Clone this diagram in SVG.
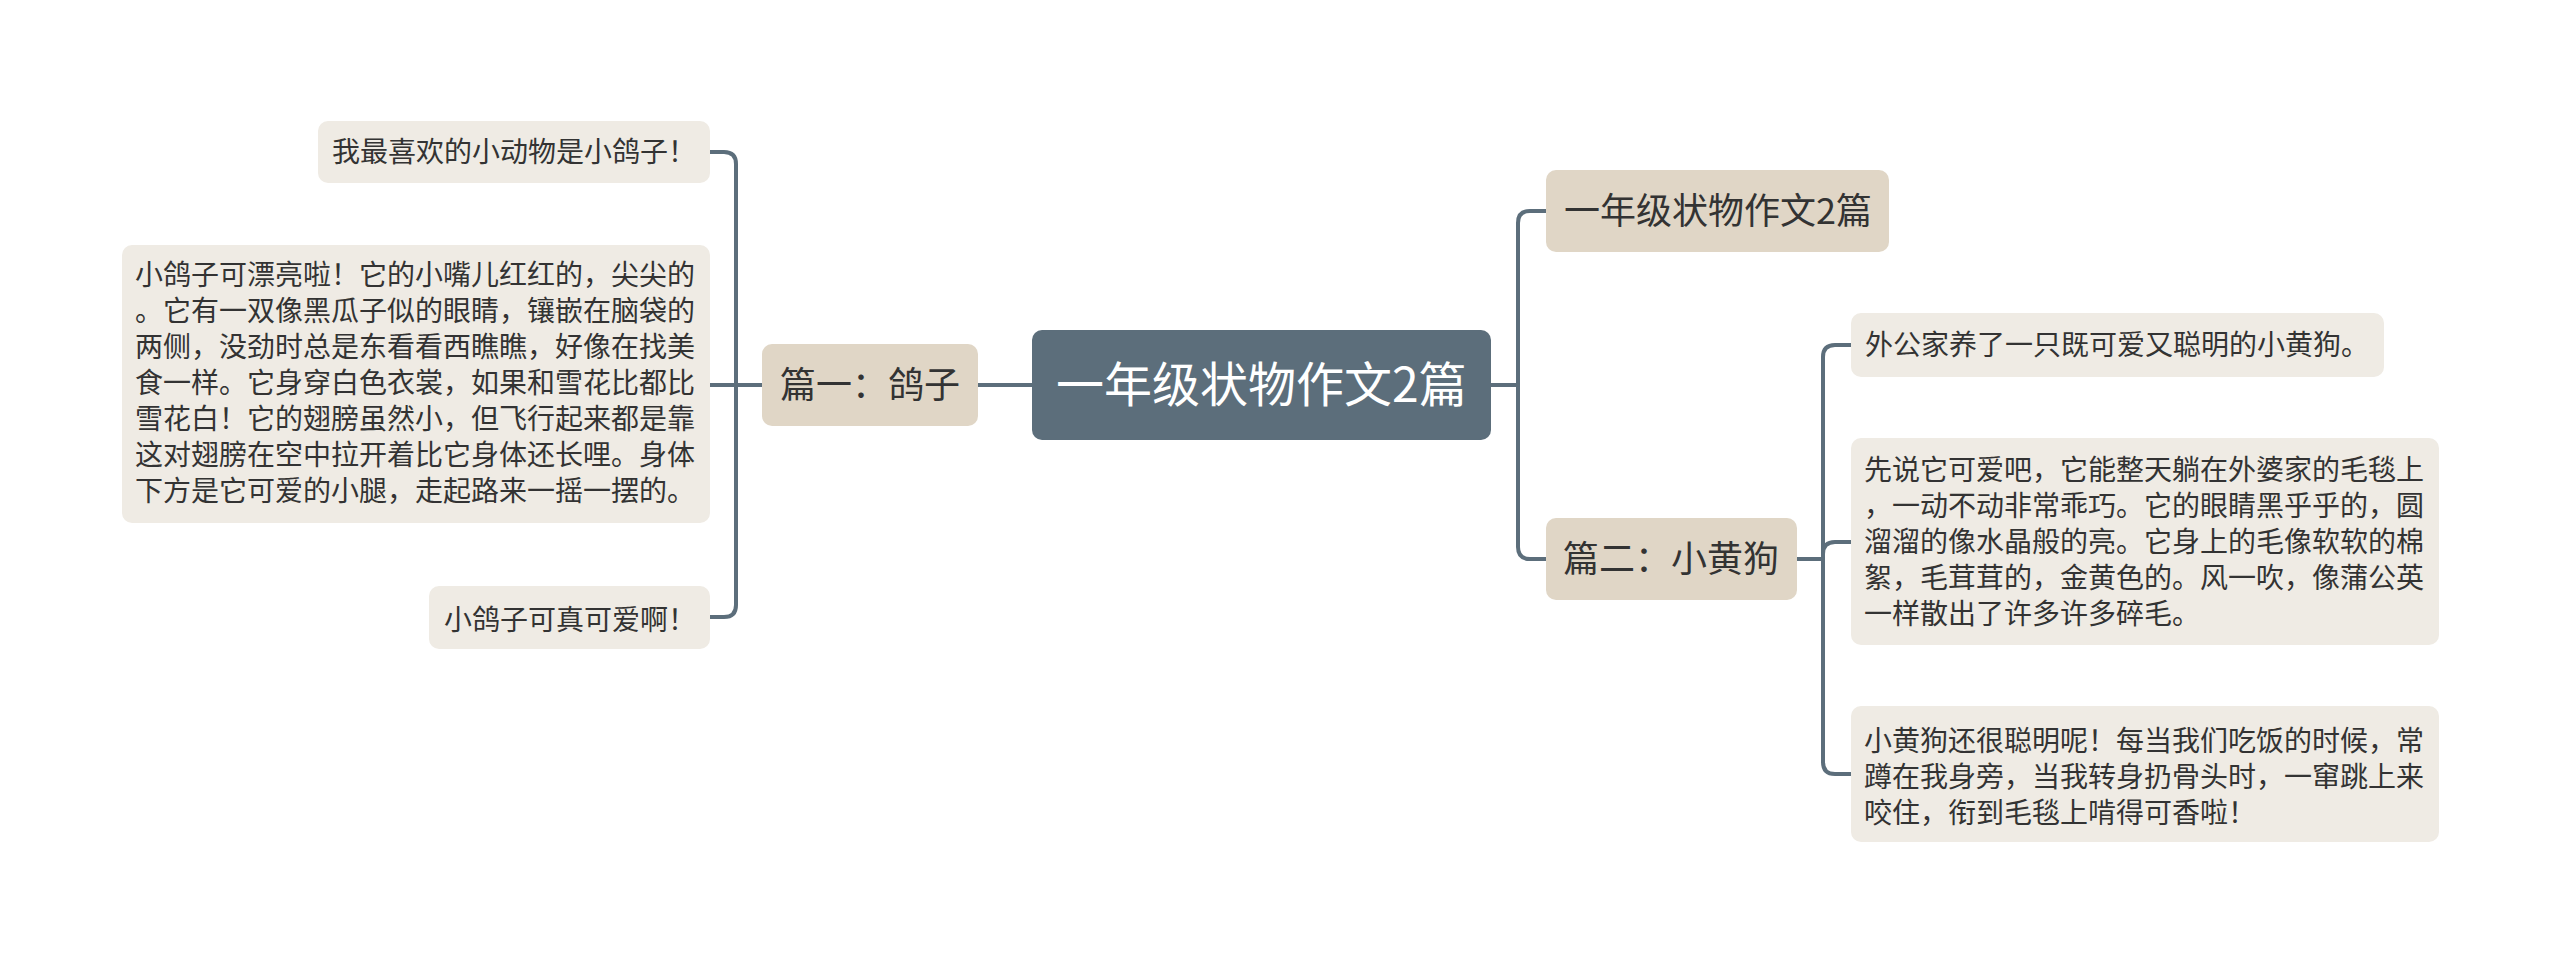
<svg xmlns="http://www.w3.org/2000/svg" width="2560" height="963" viewBox="0 0 2560 963">
<style>
text{font-family:"Noto Sans CJK SC","Noto Sans",sans-serif;}
.root rect{fill:#5c6e7b;}
.root text{fill:#ffffff;font-size:48px;}
.mid rect{fill:#e0d6c6;}
.mid text{fill:#333333;font-size:36px;}
.leaf rect{fill:#efebe4;}
.leaf text{fill:#333333;font-size:28px;}
.conn path{fill:none;stroke:#5c6e7b;stroke-width:4;stroke-linecap:round;}
</style>
<rect width="2560" height="963" fill="#ffffff"/>
<g id="connectors" class="conn">
<path d="M1032 385 H978"/>
<path d="M762 385 H736 V164 Q736 152 724 152 H710"/>
<path d="M762 385 H710"/>
<path d="M762 385 H736 V605 Q736 617 724 617 H710"/>
<path d="M1491 385 H1518"/>
<path d="M1518 385 V223 Q1518 211 1530 211 H1546"/>
<path d="M1518 385 V547 Q1518 559 1530 559 H1546"/>
<path d="M1797 559 H1823"/>
<path d="M1823 559 V357 Q1823 345 1835 345 H1851"/>
<path d="M1823 559 V554 Q1823 542 1835 542 H1851"/>
<path d="M1823 559 V762 Q1823 774 1835 774 H1851"/>
</g>
<g id="root" class="root">
<rect x="1032" y="330" width="459" height="110" rx="10"/>
<text x="1056" y="402">一年级状物作文2篇</text>
</g>
<g id="p1" class="mid">
<rect x="762" y="344" width="216" height="82" rx="10"/>
<text x="780" y="398">篇一：鸽子</text>
</g>
<g id="p1a" class="leaf">
<rect x="318" y="121" width="392" height="62" rx="10"/>
<text x="332" y="162">我最喜欢的小动物是小鸽子！</text>
</g>
<g id="p1b" class="leaf">
<rect x="122" y="245" width="588" height="278" rx="10"/>
<text x="135" y="285">小鸽子可漂亮啦！它的小嘴儿红红的，尖尖的</text>
<text x="135" y="321">。它有一双像黑瓜子似的眼睛，镶嵌在脑袋的</text>
<text x="135" y="357">两侧，没劲时总是东看看西瞧瞧，好像在找美</text>
<text x="135" y="393">食一样。它身穿白色衣裳，如果和雪花比都比</text>
<text x="135" y="429">雪花白！它的翅膀虽然小，但飞行起来都是靠</text>
<text x="135" y="465">这对翅膀在空中拉开着比它身体还长哩。身体</text>
<text x="135" y="501">下方是它可爱的小腿，走起路来一摇一摆的。</text>
</g>
<g id="p1c" class="leaf">
<rect x="429" y="586" width="281" height="63" rx="10"/>
<text x="444" y="630">小鸽子可真可爱啊！</text>
</g>
<g id="t1" class="mid">
<rect x="1546" y="170" width="343" height="82" rx="10"/>
<text x="1564" y="224">一年级状物作文2篇</text>
</g>
<g id="p2" class="mid">
<rect x="1546" y="518" width="251" height="82" rx="10"/>
<text x="1563" y="572">篇二：小黄狗</text>
</g>
<g id="p2a" class="leaf">
<rect x="1851" y="313" width="533" height="64" rx="10"/>
<text x="1865" y="355">外公家养了一只既可爱又聪明的小黄狗。</text>
</g>
<g id="p2b" class="leaf">
<rect x="1851" y="438" width="588" height="207" rx="10"/>
<text x="1864" y="480">先说它可爱吧，它能整天躺在外婆家的毛毯上</text>
<text x="1864" y="516">，一动不动非常乖巧。它的眼睛黑乎乎的，圆</text>
<text x="1864" y="552">溜溜的像水晶般的亮。它身上的毛像软软的棉</text>
<text x="1864" y="588">絮，毛茸茸的，金黄色的。风一吹，像蒲公英</text>
<text x="1864" y="624">一样散出了许多许多碎毛。</text>
</g>
<g id="p2c" class="leaf">
<rect x="1851" y="706" width="588" height="136" rx="10"/>
<text x="1864" y="751">小黄狗还很聪明呢！每当我们吃饭的时候，常</text>
<text x="1864" y="787">蹲在我身旁，当我转身扔骨头时，一窜跳上来</text>
<text x="1864" y="823">咬住，衔到毛毯上啃得可香啦！</text>
</g>
</svg>
